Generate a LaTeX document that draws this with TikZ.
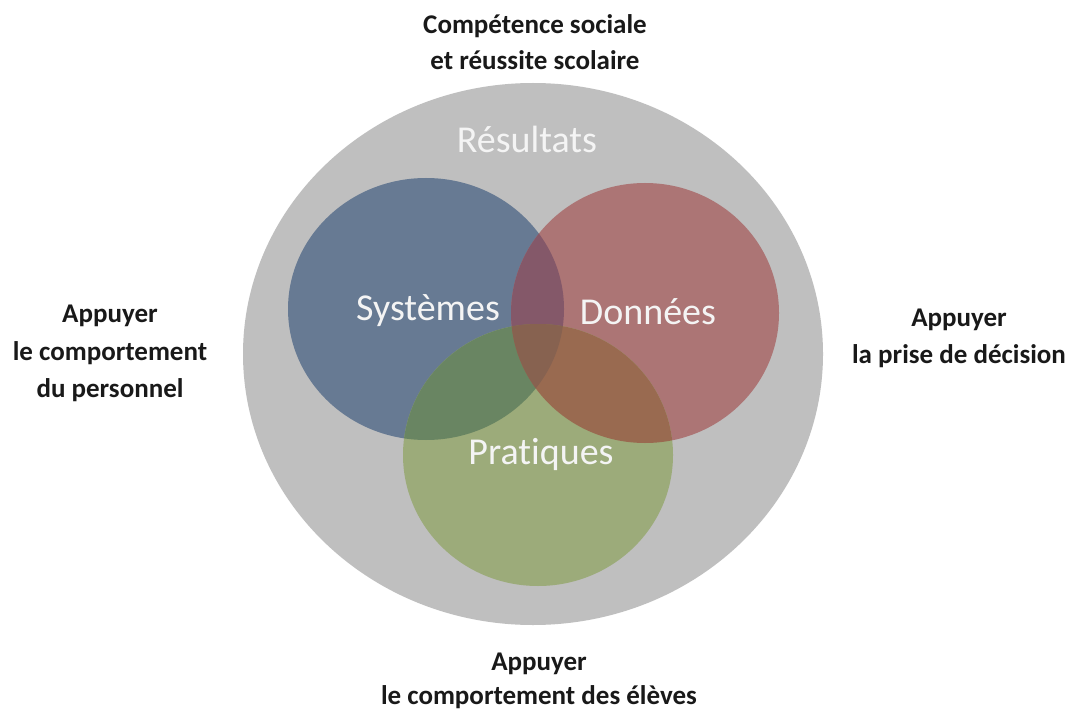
\documentclass[tikz,border=0pt]{standalone}
\usepackage{fontspec}
\setmainfont{Carlito}[Ligatures={NoCommon}]
\definecolor{cgray}{HTML}{BFBFBF}
\definecolor{cblue}{HTML}{677A93}
\definecolor{cred}{HTML}{AC7575}
\definecolor{cgreen}{HTML}{9CAB7A}
\definecolor{cbr}{HTML}{845869}
\definecolor{cbg}{HTML}{698562}
\definecolor{crg}{HTML}{996A50}
\definecolor{cbrg}{HTML}{876250}
\definecolor{ctext}{HTML}{F4F4F4}
\begin{document}
\begin{tikzpicture}[x=1pt,y=-1pt,
  lbl/.style={font=\fontsize{27}{32}\selectfont\bfseries, text=black!90, inner sep=0pt, anchor=base},
  inlbl/.style={font=\fontsize{38}{44}\selectfont, text=ctext, inner sep=0pt, anchor=base}]
\useasboundingbox (0,0) rectangle (1070,711);
\fill[white] (0,0) rectangle (1070,711);
% outer ellipse
\fill[cgray] (533,354) ellipse [x radius=290pt, y radius=271pt];
% three circles
\fill[cblue]  (426,309) ellipse [x radius=138pt, y radius=131pt];
\fill[cred]   (645,313) ellipse [x radius=134pt, y radius=130pt];
\fill[cgreen] (538,455) ellipse [x radius=135pt, y radius=131pt];
% pairwise intersections
\begin{scope}
  \clip (426,309) ellipse [x radius=138pt, y radius=131pt];
  \fill[cbr] (645,313) ellipse [x radius=134pt, y radius=130pt];
  \fill[cbg] (538,455) ellipse [x radius=135pt, y radius=131pt];
\end{scope}
\begin{scope}
  \clip (645,313) ellipse [x radius=134pt, y radius=130pt];
  \fill[crg] (538,455) ellipse [x radius=135pt, y radius=131pt];
\end{scope}
\begin{scope}
  \clip (426,309) ellipse [x radius=138pt, y radius=131pt];
  \clip (645,313) ellipse [x radius=134pt, y radius=130pt];
  \fill[cbrg] (538,455) ellipse [x radius=135pt, y radius=131pt];
\end{scope}
% inner labels
\node[inlbl] (res) at (527,153) {Résultats};
\node[inlbl] (sys) at (428,320) {Systèmes};
\node[inlbl] (don) at (648,324) {Données};
\node[inlbl] (pra) at (541,464) {Pratiques};
% outer labels
\node[lbl] (top1) at (535,34) {Compétence sociale};
\node[lbl] (top2) at (535,70) {et réussite scolaire};
\node[lbl] (left1) at (110,322) {Appuyer};
\node[lbl] (left2) at (110,360) {le comportement};
\node[lbl] (left3) at (110,397) {du personnel};
\node[lbl] (right1) at (959,326) {Appuyer};
\node[lbl] (right2) at (959,363) {la prise de décision};
\node[lbl] (bot1) at (539,670) {Appuyer};
\node[lbl] (bot2) at (539,704) {le comportement des élèves};
\end{tikzpicture}
\end{document}
